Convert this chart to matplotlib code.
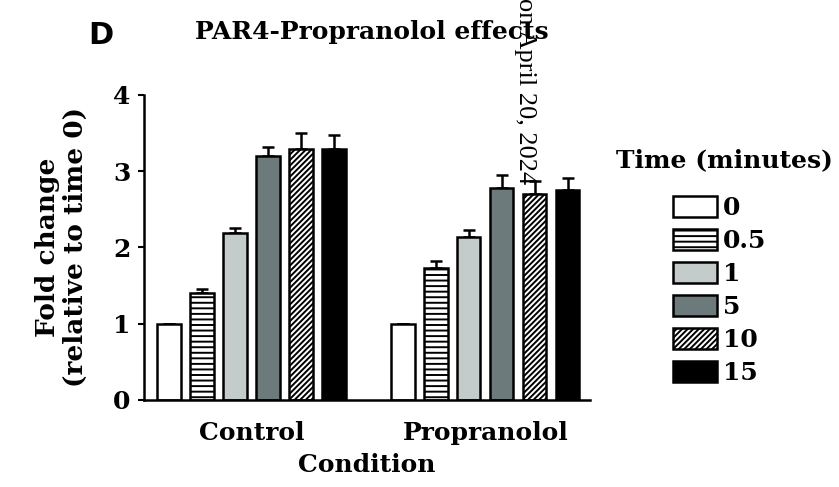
import numpy as np
import matplotlib.pyplot as plt
from matplotlib.patches import Patch

plt.rcParams['hatch.linewidth'] = 1.4

conditions = ["Control", "Propranolol"]
times = ["0", "0.5", "1", "5", "10", "15"]
control = [1.0, 1.40, 2.19, 3.20, 3.29, 3.29]
control_err = [0.0, 0.06, 0.07, 0.12, 0.21, 0.18]
propranolol = [1.0, 1.73, 2.14, 2.78, 2.70, 2.75]
propranolol_err = [0.0, 0.09, 0.09, 0.17, 0.17, 0.16]

colors = ["white", "white", "#c3cccb", "#6d7a7c", "white", "black"]
hatches = [None, "---", None, None, "//////", None]

font = "DejaVu Serif"
fs = 18

fig = plt.figure(figsize=(8.39, 4.87), dpi=100)
ax = fig.add_axes([0.172, 0.179, 0.531, 0.626])

means = np.array([control, propranolol])
errs = np.array([control_err, propranolol_err])
centers = np.array([0.0, 1.0])
width = 0.1
pitch = 0.141
for i in range(len(times)):
    xs = centers + (i - 2.5) * pitch
    ax.bar(xs, means[:, i], width=width, color=colors[i], edgecolor="black",
           linewidth=1.8, hatch=hatches[i], zorder=2)
    ax.errorbar(xs, means[:, i], yerr=[np.zeros(2), errs[:, i]], fmt="none",
                ecolor="black", elinewidth=1.8, capsize=4, capthick=1.8, zorder=1)

ax.set_xlim(-0.458, 1.447)
ax.set_ylim(0, 4)
ax.set_yticks([0, 1, 2, 3, 4])
ax.set_xticks(centers)
ax.set_xticklabels(conditions)
for s in ["top", "right"]:
    ax.spines[s].set_visible(False)
ax.spines["left"].set_linewidth(1.8)
ax.spines["bottom"].set_linewidth(1.8)
ax.tick_params(axis="x", length=0, pad=15)
ax.tick_params(axis="y", length=4, width=1.5, pad=6)
for lab in ax.get_xticklabels() + ax.get_yticklabels():
    lab.set_fontfamily(font)
    lab.set_fontweight("bold")
    lab.set_fontsize(fs)

ax.set_xlabel("Condition", fontfamily=font, fontweight="bold", fontsize=fs, labelpad=6)
ax.set_ylabel("Fold change\n(relative to time 0)", fontfamily=font, fontweight="bold",
              fontsize=19, labelpad=18, linespacing=1.15)

fig.text(0.443, 0.935, "PAR4-Propranolol effects", ha="center", va="center",
         fontfamily=font, fontweight="bold", fontsize=fs)
fig.text(0.12, 0.928, "D", ha="center", va="center", fontfamily="DejaVu Sans",
         fontweight="bold", fontsize=22)
fig.text(0.626, 1.005, "on April 20, 2024", rotation=270, ha="center", va="top",
         fontfamily="Liberation Serif", fontsize=19)

fig.text(0.863, 0.672, "Time (minutes)", ha="center", va="center",
         fontfamily=font, fontweight="bold", fontsize=fs)
handles = [Patch(facecolor=colors[i], edgecolor="black", linewidth=1.8,
                 hatch=hatches[i], label=times[i]) for i in range(len(times))]
leg = fig.legend(handles=handles, loc="upper left",
                 bbox_to_anchor=(0.802, 0.598), frameon=False,
                 prop={"family": font, "weight": "bold", "size": fs},
                 handlelength=1.75, handleheight=0.9, handletextpad=0.25,
                 labelspacing=0.36, borderaxespad=0, borderpad=0)

fig.savefig("out.png", dpi=100)
